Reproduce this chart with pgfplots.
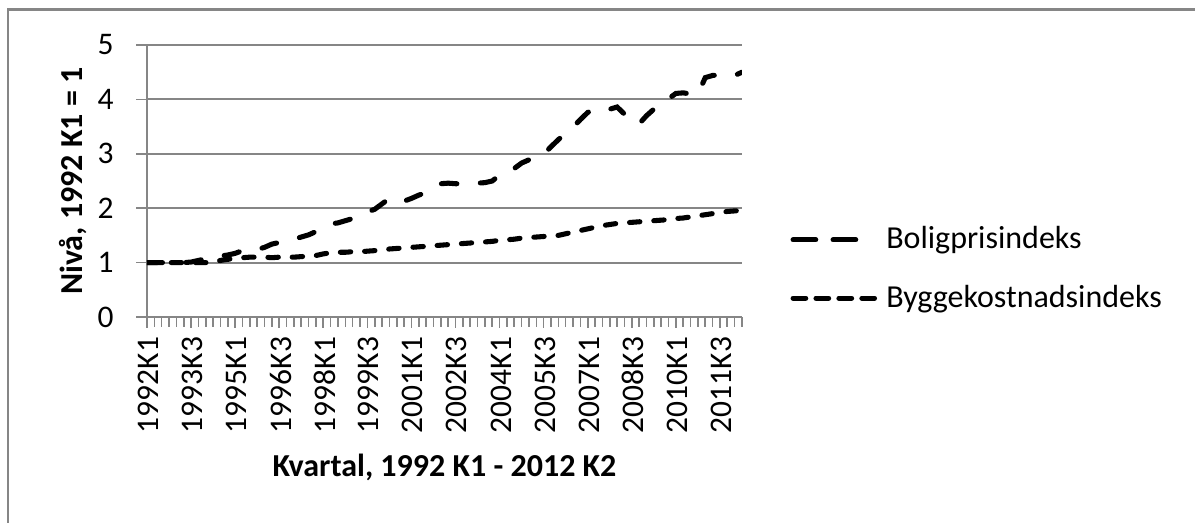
\documentclass[border=0pt]{standalone}
\usepackage{pgfplots}
\usepackage{pgfplotstable}
\pgfplotsset{compat=1.18}
\usepackage{fontspec}
\setmainfont{Carlito}
\definecolor{gridgray}{RGB}{134,134,134}

% Quarterly index levels, 1992K1 = 1 (index 0 = 1992K1, 81 = 2012K2)
\pgfplotstableread{
q bolig bygg
0 1.00 1.00
1 1.00 1.00
2 1.00 1.00
3 1.00 1.00
4 1.00 1.00
5 1.00 1.00
6 1.01 1.00
7 1.04 1.00
8 1.07 1.00
9 1.10 1.01
10 1.12 1.04
11 1.14 1.06
12 1.17 1.08
13 1.22 1.09
14 1.25 1.10
15 1.24 1.10
16 1.28 1.10
17 1.34 1.09
18 1.37 1.10
19 1.40 1.10
20 1.43 1.10
21 1.47 1.11
22 1.51 1.12
23 1.57 1.13
24 1.64 1.16
25 1.71 1.18
26 1.73 1.19
27 1.77 1.19
28 1.81 1.20
29 1.87 1.20
30 1.93 1.21
31 1.98 1.22
32 2.08 1.23
33 2.18 1.25
34 2.13 1.26
35 2.13 1.27
36 2.18 1.28
37 2.24 1.29
38 2.29 1.30
39 2.37 1.31
40 2.45 1.32
41 2.46 1.33
42 2.45 1.34
43 2.45 1.35
44 2.45 1.36
45 2.46 1.37
46 2.47 1.38
47 2.50 1.39
48 2.61 1.41
49 2.69 1.42
50 2.73 1.43
51 2.83 1.45
52 2.89 1.46
53 2.93 1.47
54 2.99 1.48
55 3.13 1.49
56 3.26 1.50
57 3.38 1.53
58 3.49 1.56
59 3.63 1.59
60 3.76 1.62
61 3.83 1.65
62 3.81 1.68
63 3.82 1.70
64 3.86 1.72
65 3.73 1.73
66 3.59 1.74
67 3.55 1.75
68 3.70 1.76
69 3.82 1.77
70 3.90 1.78
71 4.01 1.79
72 4.11 1.81
73 4.12 1.82
74 4.10 1.84
75 4.10 1.86
76 4.40 1.88
77 4.44 1.90
78 4.45 1.92
79 4.46 1.94
80 4.44 1.95
81 4.50 1.96
}\indexdata

\begin{document}
\begin{tikzpicture}
\useasboundingbox (-55.125pt,-77.25pt) rectangle (393pt,118.875pt);
% chart frame
\draw[gridgray, line width=0.8pt] (-52.1pt,-80pt) -- (-52.1pt,115.3pt) -- (396pt,115.3pt);
\begin{axis}[
  at={(0pt,0pt)}, anchor=south west,
  scale only axis, width=223.125pt, height=102pt,
  xmin=0, xmax=81, ymin=0, ymax=5,
  axis x line*=bottom, axis y line*=left,
  axis line style={gridgray, line width=0.75pt, -},
  ymajorgrids, grid style={gridgray, line width=0.75pt},
  ytick={0,...,5},
  xtick={0,6,...,78},
  xticklabels={1992K1,1993K3,1995K1,1996K3,1998K1,1999K3,2001K1,2002K3,2004K1,2005K3,2007K1,2008K3,2010K1,2011K3},
  minor xtick={0,...,81},
  tick align=outside,
  major tick length=4pt, minor tick length=3.75pt,
  tick style={gridgray, line width=0.6pt},
  /pgf/number format/assume math mode=true,
  ticklabel style={font=\fontsize{11.8}{13}\selectfont, text=black},
  xticklabel style={rotate=90, anchor=east, yshift=-0.5pt},
  yticklabel style={anchor=east, xshift=-5pt},
  xlabel={\textbf{Kvartal, 1992 K1 - 2012 K2}},
  ylabel={\textbf{Nivå, 1992 K1 = 1}},
  label style={font=\fontsize{12}{14}\selectfont},
  xlabel style={at={(axis description cs:0.5,-0.5515)}, anchor=center},
  ylabel style={at={(axis description cs:-0.1244,0.5)}, anchor=center},
  legend style={at={(axis description cs:1.0807,0.1765)}, anchor=west,
    draw=none, fill=none, inner sep=0pt,
    font=\fontsize{12}{14}\selectfont, row sep=8pt,
    /tikz/every odd column/.append style={column sep=0pt}},
  legend cell align=left,
]
\addplot[black, line width=1.9pt, line cap=round, dash pattern=on 5.8pt off 8.8pt,
  legend image code/.code={\draw[black, line width=1.9pt, line cap=round,
    dash pattern=on 8.5pt off 6.5pt] (1pt,0pt) -- (26pt,0pt);}]
  table[x=q, y=bolig] {\indexdata};
\addlegendentry{Boligprisindeks}
\addplot[black, line width=1.9pt, line cap=round, dash pattern=on 3.9pt off 5.2pt,
  legend image code/.code={\draw[black, line width=1.9pt, line cap=round,
    dash pattern=on 4.75pt off 3.85pt] (1pt,0pt) -- (33pt,0pt);}]
  table[x=q, y=bygg] {\indexdata};
\addlegendentry{Byggekostnadsindeks}
\end{axis}
\end{tikzpicture}
\end{document}
